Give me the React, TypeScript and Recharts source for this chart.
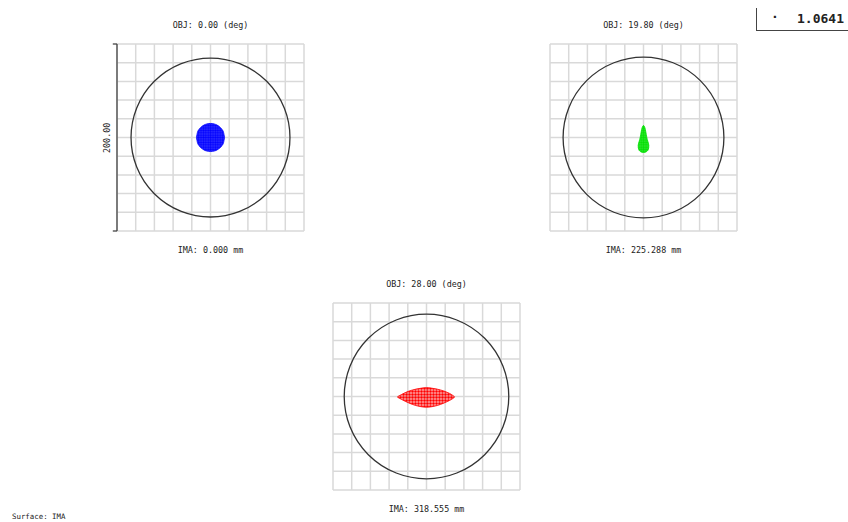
import React from "react";
import { ComposedChart, XAxis, YAxis, CartesianGrid, Area, ReferenceDot, ReferenceLine } from "recharts";

// Field angles (deg) and image heights (mm)
const FIELD_TITLES = ["OBJ: 0.00 (deg)", "OBJ: 19.80 (deg)", "OBJ: 28.00 (deg)"];
const IMA_LABELS = ["IMA: 0.000 mm", "IMA: 225.288 mm", "IMA: 318.555 mm"];
const SCALE_LABEL = "200.00";
const GRID_TICKS = [-100, -80, -60, -40, -20, 0, 20, 40, 60, 80, 100];
const SCALE_MIN = -100;
const SCALE_MAX = 100;
// Airy disc radii (µm)
const AIRY_RADII = [85, 86, 88];
// Spot outlines (µm): x with [low, high] y range
const SPOT_BLUE = [
  { x: -15, y: [0, 0] },
  { x: -14, y: [-5.4, 5.4] },
  { x: -12, y: [-9, 9] },
  { x: -10, y: [-11.2, 11.2] },
  { x: -7, y: [-13.3, 13.3] },
  { x: -4, y: [-14.5, 14.5] },
  { x: 0, y: [-15, 15] },
  { x: 4, y: [-14.5, 14.5] },
  { x: 7, y: [-13.3, 13.3] },
  { x: 10, y: [-11.2, 11.2] },
  { x: 12, y: [-9, 9] },
  { x: 14, y: [-5.4, 5.4] },
  { x: 15, y: [0, 0] },
];
const SPOT_GREEN = [
  { x: -5.8, y: [-9.5, -9] },
  { x: -5.2, y: [-12.5, -6] },
  { x: -4, y: [-14.5, -2] },
  { x: -3, y: [-15.2, 3] },
  { x: -2, y: [-15.7, 8.5] },
  { x: -1, y: [-16, 11.8] },
  { x: 0, y: [-16, 12.8] },
  { x: 1, y: [-16, 11.8] },
  { x: 2, y: [-15.7, 8.5] },
  { x: 3, y: [-15.2, 3] },
  { x: 4, y: [-14.5, -2] },
  { x: 5.2, y: [-12.5, -6] },
  { x: 5.8, y: [-9.5, -9] },
];
const SPOT_RED = [
  { x: -31, y: [-0.8, -0.2] },
  { x: -27, y: [-3, 2] },
  { x: -22, y: [-5.5, 4.5] },
  { x: -15, y: [-8.5, 7] },
  { x: -8, y: [-10.5, 8.5] },
  { x: 0, y: [-11.5, 9.5] },
  { x: 8, y: [-10.5, 8.5] },
  { x: 15, y: [-8.5, 7] },
  { x: 22, y: [-5.5, 4.5] },
  { x: 27, y: [-3, 2] },
  { x: 30, y: [-0.8, -0.2] },
];
const SPOTS = [SPOT_BLUE, SPOT_GREEN, SPOT_RED];
const SPOT_COLORS = ["#0000ff", "#00e000", "#ff0000"];
const RMS_VALUE = "1.0641";
const SURFACE_LABEL = "Surface: IMA";

const PLOT = 187;
const PAD = 30;
const MONO = "'DejaVu Sans Mono', 'Liberation Mono', monospace";

type PanelProps = {
  idx: number;
  left: number;
  top: number;
  scaleBar?: boolean;
};

function Panel({ idx, left, top, scaleBar }: PanelProps) {
  const color = SPOT_COLORS[idx];
  const pid = `dots${idx}`;
  const rPx = (AIRY_RADII[idx] * PLOT) / 200;
  const labelStyle: React.CSSProperties = {
    position: "absolute",
    left: left - 60,
    width: PLOT + 120,
    textAlign: "center",
    fontFamily: MONO,
    fontSize: 8.4,
    color: "#222",
    lineHeight: "10px",
    whiteSpace: "nowrap",
  };
  const tickLen = 4.5; // µm beyond the box (≈4px)
  const isRed = idx === 2;
  const cell = isRed ? 3 : 2.4;
  return (
    <>
      <div style={{ ...labelStyle, top: top - 24 }}>{FIELD_TITLES[idx]}</div>
      <div style={{ ...labelStyle, top: top + PLOT + 14 }}>{IMA_LABELS[idx]}</div>
      {scaleBar && (
        <div
          style={{
            position: "absolute",
            left: left - 25,
            top: top + PLOT / 2 - 5,
            width: 30,
            height: 10,
            lineHeight: "10px",
            textAlign: "center",
            fontFamily: MONO,
            fontSize: 8.4,
            color: "#222",
            transform: "rotate(-90deg)",
            transformOrigin: "50% 50%",
          }}
        >
          {SCALE_LABEL}
        </div>
      )}
      <div style={{ position: "absolute", left: left - PAD, top: top - PAD }}>
        <ComposedChart
          width={PLOT + 2 * PAD}
          height={PLOT + 2 * PAD}
          margin={{ top: PAD, right: PAD, bottom: PAD, left: PAD }}
        >
          <defs>
            <pattern id={pid} width={cell} height={cell} patternUnits="userSpaceOnUse">
              <rect width={cell} height={cell} fill={color} opacity={isRed ? 0.35 : 0.8} />
              <circle cx={cell / 2} cy={cell / 2} r={isRed ? 1.2 : 1} fill={color} />
            </pattern>
          </defs>
          <XAxis
            dataKey="x"
            type="number"
            domain={[-100, 100]}
            ticks={GRID_TICKS}
            interval={0}
            hide
            allowDataOverflow
          />
          <YAxis
            type="number"
            domain={[-100, 100]}
            ticks={GRID_TICKS}
            interval={0}
            hide
            allowDataOverflow
          />
          <CartesianGrid stroke="#d9d9d9" strokeWidth={1.5} />
          {scaleBar && (
            <ReferenceLine
              segment={[
                { x: SCALE_MIN, y: SCALE_MIN },
                { x: SCALE_MIN, y: SCALE_MAX },
              ]}
              stroke="#444"
              strokeWidth={1.3}
              ifOverflow="visible"
            />
          )}
          {scaleBar && (
            <ReferenceLine
              segment={[
                { x: SCALE_MIN - tickLen, y: SCALE_MAX },
                { x: SCALE_MIN, y: SCALE_MAX },
              ]}
              stroke="#444"
              strokeWidth={1.3}
              ifOverflow="visible"
            />
          )}
          {scaleBar && (
            <ReferenceLine
              segment={[
                { x: SCALE_MIN - tickLen, y: SCALE_MIN },
                { x: SCALE_MIN, y: SCALE_MIN },
              ]}
              stroke="#444"
              strokeWidth={1.3}
              ifOverflow="visible"
            />
          )}
          <Area
            data={SPOTS[idx]}
            dataKey="y"
            type="monotone"
            stroke={color}
            strokeWidth={0.8}
            fill={`url(#${pid})`}
            fillOpacity={1}
            dot={false}
            activeDot={false}
            isAnimationActive={false}
          />
          <ReferenceDot
            x={0}
            y={0}
            r={rPx}
            fill="none"
            stroke="#333"
            strokeWidth={1.3}
            ifOverflow="visible"
          />
        </ComposedChart>
      </div>
    </>
  );
}

export default function App() {
  return (
    <div
      style={{
        position: "absolute",
        left: 0,
        top: 0,
        width: 848,
        height: 522,
        background: "#fff",
        overflow: "hidden",
      }}
    >
      <Panel idx={0} left={117} top={44} scaleBar />
      <Panel idx={1} left={550} top={44} />
      <Panel idx={2} left={333} top={303} />
      <div
        style={{
          position: "absolute",
          left: 756,
          top: 8,
          width: 100,
          height: 22,
          borderLeft: "1.2px solid #444",
          borderBottom: "1.2px solid #444",
        }}
      >
        <span
          style={{
            position: "absolute",
            left: 14,
            top: 1,
            fontFamily: MONO,
            fontSize: 13,
            fontWeight: "bold",
            color: "#222",
          }}
        >
          ·
        </span>
        <span
          style={{
            position: "absolute",
            left: 40,
            top: 3,
            fontFamily: MONO,
            fontSize: 13,
            fontWeight: "bold",
            color: "#222",
            lineHeight: "15px",
          }}
        >
          {RMS_VALUE}
        </span>
      </div>
      <div
        style={{
          position: "absolute",
          left: 12,
          top: 512,
          fontFamily: MONO,
          fontSize: 7.4,
          color: "#222",
          lineHeight: "10px",
          whiteSpace: "nowrap",
        }}
      >
        {SURFACE_LABEL}
      </div>
    </div>
  );
}
